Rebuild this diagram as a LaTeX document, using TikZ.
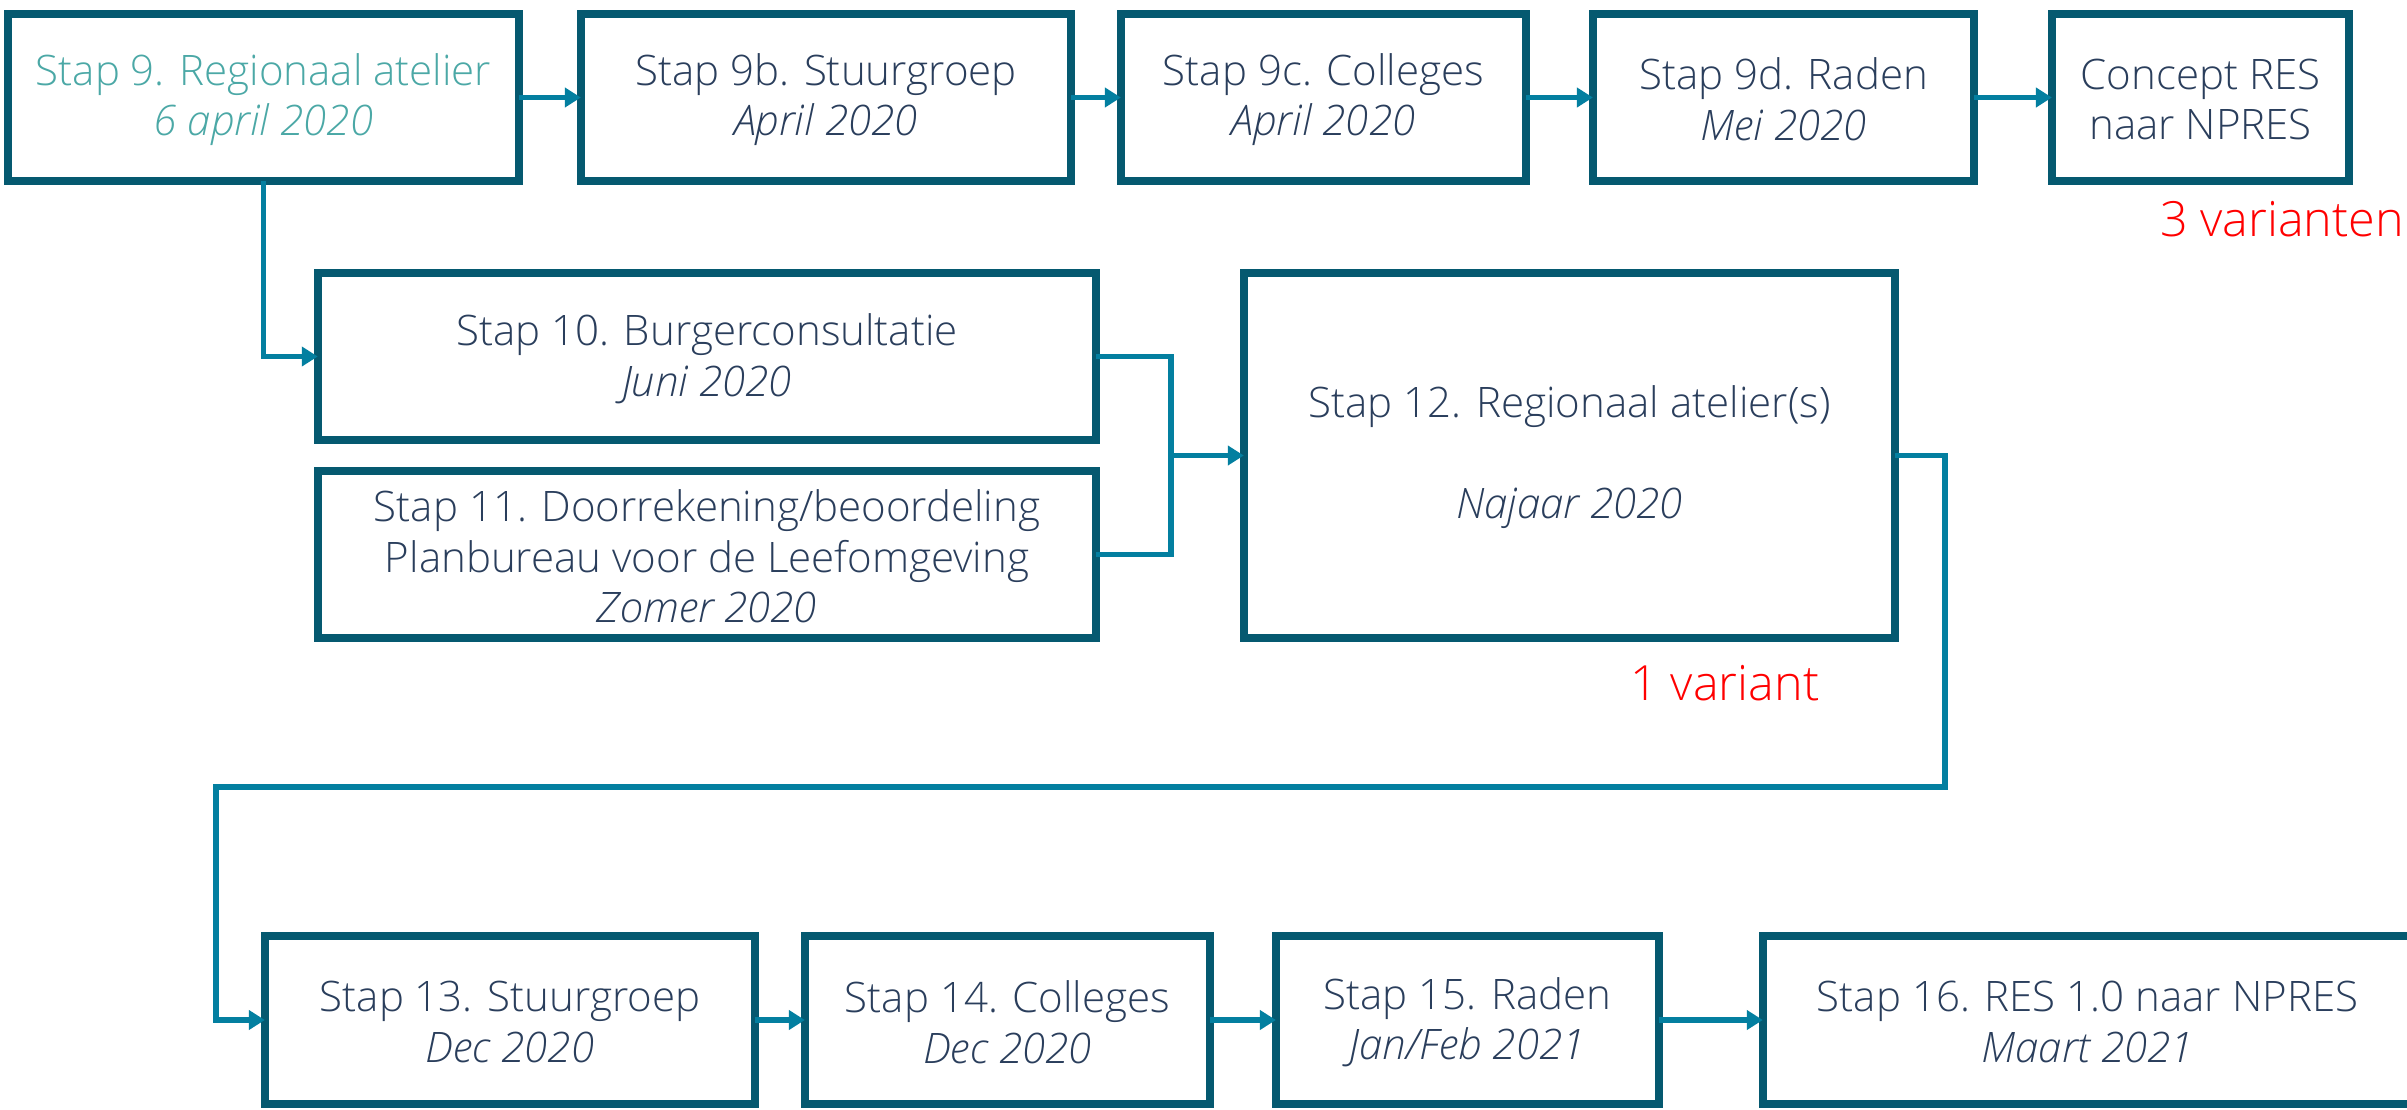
\documentclass[tikz,border=0pt]{standalone}
\usepackage{fontspec}
\IfFontExistsTF{Open Sans Light}{%
  \IfFontExistsTF{Open Sans Light Italic}{%
    \setmainfont{Open Sans}[UprightFont=* Light, ItalicFont=* Light Italic]}{%
    \setmainfont{Open Sans}[UprightFont=* Light]}}{%
  \setmainfont{Open Sans}}
\usetikzlibrary{arrows.meta}
\definecolor{boxc}{RGB}{5,89,112}
\definecolor{linec}{RGB}{3,127,160}
\definecolor{txtc}{RGB}{42,62,92}
\definecolor{tealt}{RGB}{75,168,166}
\definecolor{redt}{RGB}{255,0,0}
\newcommand{\mainfs}{\fontsize{11.95pt}{14.37pt}\selectfont}
\newcommand{\redfs}{\fontsize{13.8pt}{16pt}\selectfont}
\tikzset{
  stepbox/.style={draw=boxc, line width=0.08cm, fill=white, inner sep=0pt, outer sep=0pt,
    minimum height=1.67cm},
  lbl/.style={align=center, text=txtc, font=\mainfs, inner sep=0pt, yshift=-0.02cm},
  conn/.style={draw=linec, line width=0.058cm},
  arr/.style={conn, -{Triangle[length=0.16cm,width=0.19cm]}},
  redlbl/.style={text=redt, font=\redfs, anchor=base, inner sep=0pt}
}
\begin{document}
\begin{tikzpicture}[x=0.01cm, y=-0.01cm]
\useasboundingbox (0,0) rectangle (2407,1109);
% top row boxes
\node[stepbox, minimum width=5.11cm] (s9) at (263.5,97.5) {};
\node[stepbox, minimum width=4.90cm] (s9b) at (826,97.5) {};
\node[stepbox, minimum width=4.05cm] (s9c) at (1323.5,97.5) {};
\node[stepbox, minimum width=3.81cm] (s9d) at (1783.5,97.5) {};
\node[stepbox, minimum width=2.97cm] (cres) at (2200.5,97.5) {};
% middle boxes
\node[stepbox, minimum width=7.78cm] (s10) at (707,356.5) {};
\node[stepbox, minimum width=7.78cm] (s11) at (707,554.5) {};
\node[stepbox, minimum width=6.51cm, minimum height=3.65cm] (s12) at (1569.5,455.5) {};
% bottom boxes
\node[stepbox, minimum width=4.90cm] (s13) at (510,1020) {};
\node[stepbox, minimum width=4.05cm] (s14) at (1007.5,1020) {};
\node[stepbox, minimum width=3.83cm] (s15) at (1467.5,1020) {};
\node[stepbox, minimum width=6.49cm] (s16) at (2087.5,1020) {};
% texts
\node[lbl, text=tealt] (t9) at (s9.center) {Stap 9. Regionaal atelier\\\textit{6 april 2020}};
\node[lbl] (t9b) at (s9b.center) {Stap 9b. Stuurgroep\\\textit{April 2020}};
\node[lbl] (t9c) at (s9c.center) {Stap 9c. Colleges\\\textit{April 2020}};
\node[lbl] (t9d) at (s9d.center) {Stap 9d. Raden\\\textit{Mei 2020}};
\node[lbl] (tcres) at (cres.center) {Concept RES\\naar NPRES};
\node[lbl] (t10) at (s10.center) {Stap 10. Burgerconsultatie\\\textit{Juni 2020}};
\node[lbl] (t11) at (s11.center) {Stap 11. Doorrekening/beoordeling\\Planbureau voor de Leefomgeving\\\textit{Zomer 2020}};
\node[lbl] (t12) at (s12.center) {Stap 12. Regionaal atelier(s)\\[14.37pt]\textit{Najaar 2020}};
\node[lbl] (t13) at (s13.center) {Stap 13. Stuurgroep\\\textit{Dec 2020}};
\node[lbl] (t14) at (s14.center) {Stap 14. Colleges\\\textit{Dec 2020}};
\node[lbl] (t15) at (s15.center) {Stap 15. Raden\\\textit{Jan/Feb 2021}};
\node[lbl] (t16) at (s16.center) {Stap 16. RES 1.0 naar NPRES\\\textit{Maart 2021}};
\node[redlbl] (v3) at (2282,236) {3 varianten};
\node[redlbl] (v1) at (1725,700) {1 variant};
% connector coordinates
\coordinate (j) at (1171,455.5);
\coordinate (r1) at (1945,787);
\coordinate (r2) at (216,787);
% connectors
\draw[arr] (s9.east) -- (s9b.west);
\draw[arr] (s9b.east) -- (s9c.west);
\draw[arr] (s9c.east) -- (s9d.west);
\draw[arr] (s9d.east) -- (cres.west);
\draw[arr] (s9.south) |- (s10.west);
\draw[conn] (s10.east) -| (j) |- (s11.east);
\draw[arr] (j) -- (s12.west);
\draw[arr] (s12.east) -| (r1) -- (r2) |- (s13.west);
\draw[arr] (s13.east) -- (s14.west);
\draw[arr] (s14.east) -- (s15.west);
\draw[arr] (s15.east) -- (s16.west);
\end{tikzpicture}
\end{document}
